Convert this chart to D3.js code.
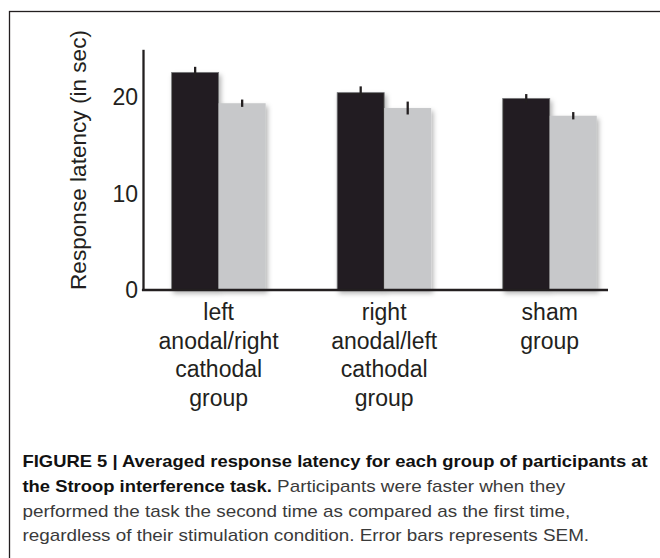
<!DOCTYPE html>
<html>
<head>
<meta charset="utf-8">
<script src="https://cdn.jsdelivr.net/npm/d3@7"></script>
<style>
  body { margin: 0; background: #fff; }
  svg { display: block; }
</style>
</head>
<body>
<svg id="chart"></svg>
<script>
// values (seconds)
const groups = [
  ["left", "anodal/right", "cathodal", "group"],
  ["right", "anodal/left", "cathodal", "group"],
  ["sham", "group"]
];
const sessions = ["first", "second"];
const firstMean = [22.6, 20.5, 19.9];
const secondMean = [19.4, 18.9, 18.1];
const firstSem = [0.58, 0.65, 0.45];
const secondSem = [0.38, 0.67, 0.38];
const yTicks = [0, 10, 20];

const width = 660, height = 558;
const black = "#231f20", grey = "#c7c8ca";
const font = "'Liberation Sans', Arial, Helvetica, sans-serif";

const svg = d3.select("#chart")
  .attr("width", width)
  .attr("height", height)
  .style("font-family", font);

// shadow under the bars
const defs = svg.append("defs");
defs.append("filter")
  .attr("id", "shadow")
  .attr("x", "-20%").attr("y", "-20%")
  .attr("width", "150%").attr("height", "150%")
  .append("feDropShadow")
  .attr("dx", 2).attr("dy", 3)
  .attr("stdDeviation", 2.5)
  .attr("flood-color", "#000")
  .attr("flood-opacity", 0.3);

// frame round the figure (cut off at right and bottom)
svg.append("rect")
  .attr("x", 9.5).attr("y", 11.5)
  .attr("width", 700).attr("height", 600)
  .attr("fill", "none")
  .attr("stroke", black)
  .attr("stroke-width", 1.3);

const x0 = 143, xAxisEnd = 608;
const baseY = 290;

const data = groups.map((g, i) => ({
  key: i,
  label: g,
  values: [
    { session: "first", mean: firstMean[i], sem: firstSem[i] },
    { session: "second", mean: secondMean[i], sem: secondSem[i] }
  ]
}));

const scaleX = d3.scaleBand()
  .domain(data.map(d => d.key))
  .range([x0, 625.4])
  .paddingInner(0.432)
  .paddingOuter(0.173);

const scaleSub = d3.scaleBand()
  .domain(sessions)
  .range([0, scaleX.bandwidth()]);

const scaleY = d3.scaleLinear()
  .domain([0, 25])
  .range([baseY, 49.3]);

const color = d3.scaleOrdinal().domain(sessions).range([black, grey]);

// bars
const series = svg.append("g")
  .selectAll("g")
  .data(data)
  .join("g")
  .attr("transform", d => `translate(${scaleX(d.key)},0)`);

series.selectAll("rect")
  .data(d => d.values)
  .join("rect")
  .attr("x", d => scaleSub(d.session))
  .attr("y", d => scaleY(d.mean))
  .attr("width", scaleSub.bandwidth())
  .attr("height", d => scaleY(0) - scaleY(d.mean))
  .attr("fill", d => color(d.session))
  .attr("stroke", d => d.session === "first" ? "#77787b" : "none")
  .attr("stroke-width", 0.8)
  .attr("filter", "url(#shadow)");

// error bars (SEM)
series.selectAll("line.err")
  .data(d => d.values)
  .join("line")
  .attr("class", "err")
  .attr("x1", d => scaleSub(d.session) + scaleSub.bandwidth() / 2)
  .attr("x2", d => scaleSub(d.session) + scaleSub.bandwidth() / 2)
  .attr("y1", d => scaleY(d.mean + d.sem))
  .attr("y2", d => scaleY(d.mean - d.sem))
  .attr("stroke", black)
  .attr("stroke-width", 2.3);

// y axis
svg.append("g")
  .attr("transform", `translate(${x0},0)`)
  .call(d3.axisLeft(scaleY).tickValues(yTicks).tickSize(0).tickPadding(5).tickSizeOuter(0))
  .call(g => g.select(".domain").attr("stroke", black).attr("stroke-width", 2.3))
  .call(g => g.selectAll(".tick text")
    .attr("fill", black)
    .style("font-family", font)
    .style("font-size", "23px"));

// x axis line
svg.append("line")
  .attr("x1", x0 - 1.1).attr("x2", xAxisEnd)
  .attr("y1", baseY).attr("y2", baseY)
  .attr("stroke", black)
  .attr("stroke-width", 2.5);

// category labels
svg.append("g")
  .selectAll("text")
  .data(data)
  .join("text")
  .attr("text-anchor", "middle")
  .attr("fill", black)
  .style("font-size", "23px")
  .selectAll("tspan")
  .data(d => d.label.map(l => ({ l, cx: scaleX(d.key) + scaleX.bandwidth() / 2 })))
  .join("tspan")
  .attr("x", d => d.cx)
  .attr("y", (d, i) => 320 + i * 28.5)
  .text(d => d.l);

// y axis title
svg.append("text")
  .attr("transform", "translate(86,160) rotate(-90)")
  .attr("text-anchor", "middle")
  .attr("fill", black)
  .style("font-size", "22.6px")
  .text("Response latency (in sec)");

// caption, stretched a little to match the condensed original
const caption = [
  [["FIGURE 5 | Averaged response latency for each group of participants at", true]],
  [["the Stroop interference task.", true], [" Participants were faster when they", false]],
  [["performed the task the second time as compared as the first time,", false]],
  [["regardless of their stimulation condition. Error bars represents SEM.", false]]
];

const cap = svg.append("g")
  .attr("transform", "translate(22.5,0) scale(1.15,1)");
caption.forEach((line, i) => {
  const t = cap.append("text")
    .attr("x", 0)
    .attr("y", 467 + i * 24.8);
  line.forEach(([s, bold]) => {
    t.append("tspan")
      .attr("font-weight", bold ? "bold" : "normal")
      .attr("fill", bold ? "#111" : "#3a3a3a")
      .style("font-size", bold ? "16px" : "16.4px")
      .text(s);
  });
});
</script>
</body>
</html>
